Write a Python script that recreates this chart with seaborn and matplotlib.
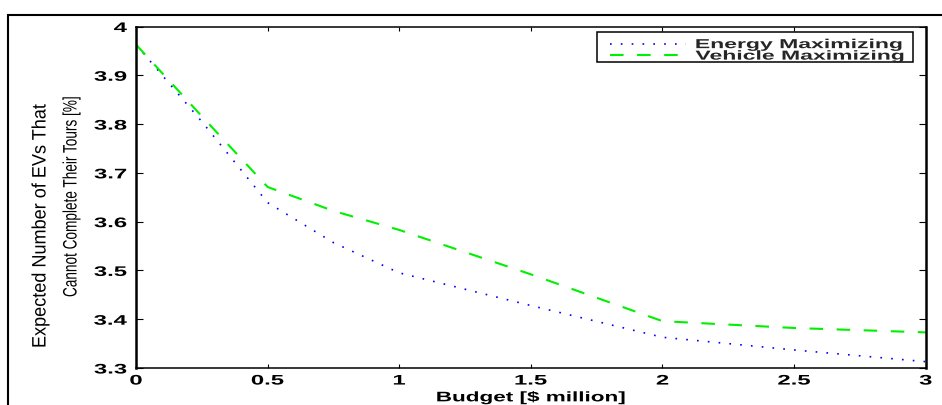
import numpy as np
import pandas as pd
import matplotlib
matplotlib.use("Agg")
import matplotlib.pyplot as plt
import seaborn as sns
from matplotlib.patheffects import AbstractPathEffect
from matplotlib.transforms import Affine2D
from matplotlib.patches import Rectangle
from matplotlib.path import Path

# ---- data ----
budget = [0.0, 0.25, 0.5, 0.75, 1.0, 1.5, 2.0, 2.5, 3.0]
energy_max = [3.963, 3.805, 3.639, 3.557, 3.495, 3.428, 3.363, 3.337, 3.313]
vehicle_max = [3.963, 3.816, 3.671, 3.622, 3.583, 3.492, 3.396, 3.382, 3.373]
series_names = ["Energy Maximizing", "Vehicle Maximizing"]
x_ticks = [0, 0.5, 1, 1.5, 2, 2.5, 3]
x_tick_labels = ["0", "0.5", "1", "1.5", "2", "2.5", "3"]
y_ticks = [3.3, 3.4, 3.5, 3.6, 3.7, 3.8, 3.9, 4.0]
y_tick_labels = ["3.3", "3.4", "3.5", "3.6", "3.7", "3.8", "3.9", "4"]
x_label = "Budget [$ million]"
y_label_1 = "Expected Number of EVs That"
y_label_2 = "Cannot Complete Their Tours [%]"


class Stretch(AbstractPathEffect):
    """Draw text stretched in display space around an anchor of its ink box."""
    def __init__(self, kx=1.0, ky=1.0, fx=0.5, fy=0.5):
        super().__init__()
        self.kx, self.ky, self.fx, self.fy = kx, ky, fx, fy

    def draw_path(self, renderer, gc, tpath, affine, rgbFace=None):
        verts = tpath.vertices
        if tpath.codes is not None:
            verts = verts[(tpath.codes != Path.CLOSEPOLY) & (tpath.codes != Path.STOP)]
        if len(verts) == 0:
            renderer.draw_path(gc, tpath, affine, rgbFace)
            return
        v = affine.transform(verts)
        x0, x1 = v[:, 0].min(), v[:, 0].max()
        y0, y1 = v[:, 1].min(), v[:, 1].max()
        ax_ = x0 + self.fx * (x1 - x0)
        ay_ = y0 + self.fy * (y1 - y0)
        t = affine + Affine2D().translate(-ax_, -ay_).scale(self.kx, self.ky).translate(ax_, ay_)
        renderer.draw_path(gc, tpath, t, rgbFace)


sns.set_style("ticks", {"xtick.direction": "in", "ytick.direction": "in",
                        "axes.edgecolor": "black"})
plt.rcParams["font.family"] = ["Liberation Sans", "DejaVu Sans"]

W, H = 942, 405
fig = plt.figure(figsize=(W / 100, H / 100), dpi=100)
fig.patch.set_facecolor("white")

# axes area in pixels: left 136, right 925.7, top 26.5, bottom 368
axL, axR, axT, axB = 136, 925.7, 26.5, 368
ax = fig.add_axes([axL / W, (H - axB) / H, (axR - axL) / W, (axB - axT) / H])

df = pd.DataFrame({"budget": budget, "energy": energy_max, "vehicle": vehicle_max})
sns.lineplot(data=df, x="budget", y="energy", ax=ax, color="#0000ff",
             linewidth=1.2, linestyle=(0, (1, 5.5)), label=series_names[0])
sns.lineplot(data=df, x="budget", y="vehicle", ax=ax, color="#00f000",
             linewidth=1.5, linestyle=(0, (6.5, 6.5)), label=series_names[1])

ax.set_xlim(0, 3)
ax.set_ylim(3.3, 4.0)
ax.set_xticks(x_ticks)
ax.set_xticklabels(x_tick_labels, fontweight="bold")
ax.set_yticks(y_ticks)
ax.set_yticklabels(y_tick_labels, fontweight="bold")

for s in ["left", "right"]:
    ax.spines[s].set_linewidth(1.8)
for s in ["top", "bottom"]:
    ax.spines[s].set_linewidth(1.1)
for s in ax.spines.values():
    s.set_color("black")

ax.tick_params(axis="x", direction="in", length=3, width=0.8, top=True,
               pad=4, labelsize=10, colors="black")
ax.tick_params(axis="y", direction="in", length=5, width=0.8, right=True,
               pad=6.5, labelsize=10, colors="black")

ax.set_xlabel(x_label, fontsize=10, labelpad=2, color="black", fontweight="bold")
ax.set_ylabel(y_label_1, fontsize=14, va="center", color="black")
ax.yaxis.set_label_coords((41 - axL) / (axR - axL), (axB - 225.5) / (axB - axT))
ax.yaxis.label.set_path_effects([Stretch(ky=0.93)])
ax.text((72 - axL) / (axR - axL), (axB - 196) / (axB - axT), y_label_2,
        transform=ax.transAxes, rotation=90, ha="center", va="center",
        fontsize=14, color="black", path_effects=[Stretch(ky=0.70)])

# legend
handles = ax.get_lines()[:2]
leg = ax.legend(handles=handles, labels=series_names, loc="upper left",
                bbox_to_anchor=((610 - axL) / (axR - axL), (axB - 39) / (axB - axT)),
                borderaxespad=0, borderpad=0, frameon=False, handlelength=5.8,
                handletextpad=0.75, labelspacing=-0.05,
                prop={"size": 9.4, "weight": "bold"})
for t in leg.get_texts():
    t.set_path_effects([Stretch(kx=1.76, fx=0.0)])
ax.add_patch(Rectangle(((597 - axL) / (axR - axL), (axB - 62) / (axB - axT)),
                       316 / (axR - axL), 30 / (axB - axT), transform=ax.transAxes,
                       fill=False, edgecolor="black", linewidth=1.1, zorder=5))

# stretched tick labels and x label
for t in ax.xaxis.get_major_ticks():
    t.label1.set_path_effects([Stretch(kx=1.72, fx=0.5)])
for t in ax.yaxis.get_major_ticks():
    t.label1.set_path_effects([Stretch(kx=1.72, fx=1.0)])
ax.xaxis.label.set_path_effects([Stretch(kx=1.62, fx=0.5)])

# outer page frame (top and left edges visible)
fig.add_artist(Rectangle((8 / W, -0.2), 2.0, 1.2 - 15 / H, transform=fig.transFigure,
                         fill=False, edgecolor="black", linewidth=1.5))

fig.savefig("out.png", dpi=100)
